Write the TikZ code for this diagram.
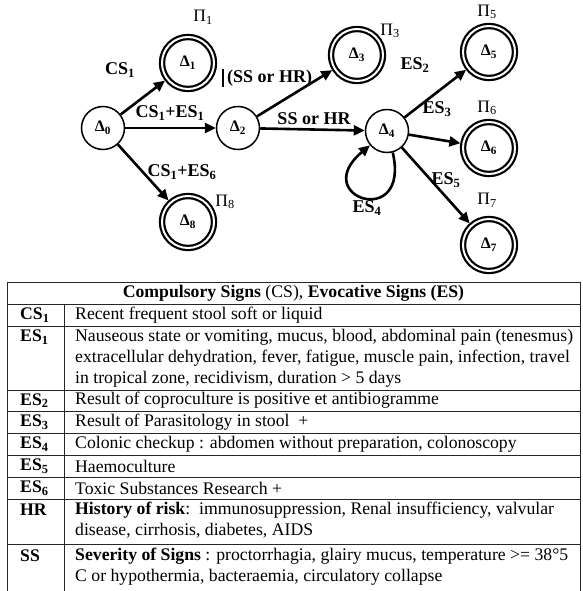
\documentclass[tikz,border=0pt]{standalone}
\usepackage{fontspec}
\setmainfont{Liberation Serif}
\usetikzlibrary{arrows.meta}
\begin{document}
\begin{tikzpicture}[x=1pt,y=-1pt,
 st/.style={circle,draw,line width=1.5pt,minimum size=43pt,inner sep=0pt,font=\fontsize{16}{16}\selectfont\bfseries},
 fin/.style={circle,draw,double,line width=2.2pt,double distance=2pt,minimum size=52pt,inner sep=0pt,outer sep=3pt,font=\fontsize{16}{16}\selectfont\bfseries},
 arr/.style={line width=2.6pt,-{Triangle[length=11pt,width=10pt]}},
 lbl/.style={font=\fontsize{18}{20}\selectfont\bfseries,inner sep=0pt},
 pil/.style={font=\fontsize{17.5}{20}\selectfont,inner sep=0pt},
 txt/.style={font=\fontsize{17.7}{21}\selectfont,anchor=west,align=left,inner sep=0pt},
 key/.style={font=\fontsize{17.7}{21}\selectfont\bfseries,anchor=west,inner sep=0pt},
 grid/.style={line width=0.8pt,black!85}]
\useasboundingbox (0,0) rectangle (582,591);
% states
\node[st]  (d0) at (103,128) {Δ\textsubscript{0}};
\node[fin] (d1) at (188,63)  {Δ\textsubscript{1}};
\node[st]  (d2) at (238,128) {Δ\textsubscript{2}};
\node[fin] (d8) at (188,222) {Δ\textsubscript{8}};
\node[fin] (d3) at (357,55)  {Δ\textsubscript{3}};
\node[st]  (d4) at (387,131) {Δ\textsubscript{4}};
\node[fin] (d5) at (489,52)  {Δ\textsubscript{5}};
\node[fin] (d6) at (489,148) {Δ\textsubscript{6}};
\node[fin] (d7) at (489,245) {Δ\textsubscript{7}};
% transitions
\draw[arr] (d0) -- (d1);
\draw[arr] (d0) -- (d2);
\draw[arr] (d0) -- (d8);
\draw[arr] (d2) -- (d3);
\draw[arr] (d2) -- (d4);
\draw[arr] (d4) -- (d5);
\draw[arr] (d4) -- (d6);
\draw[arr] (d4) -- (d7);
\draw[arr] (d4.-75) .. controls +(18,78) and +(-62,52) .. (d4.-140);
% transition labels
\node[lbl] (lcs1) at (120,70) {CS\textsubscript{1}};
\node[lbl] (lcs1es1) at (170,113) {CS\textsubscript{1}+ES\textsubscript{1}};
\node[lbl] (lcs1es6) at (182,172) {CS\textsubscript{1}+ES\textsubscript{6}};
\node[lbl,anchor=west] (lnot) at (222,78) {\rule[-4pt]{2pt}{18pt}\hspace{3pt}(SS or HR)};
\node[lbl] (lsshr) at (314,119) {SS or HR};
\node[lbl] (les2) at (415,65) {ES\textsubscript{2}};
\node[lbl] (les3) at (437,109) {ES\textsubscript{3}};
\node[lbl] (les4) at (367,208) {ES\textsubscript{4}};
\node[lbl] (les5) at (446,180) {ES\textsubscript{5}};
% outputs
\node[pil] (p1) at (203,17) {Π\textsubscript{1}};
\node[pil] (p3) at (390,31) {Π\textsubscript{3}};
\node[pil] (p5) at (487,12) {Π\textsubscript{5}};
\node[pil] (p6) at (487,108) {Π\textsubscript{6}};
\node[pil] (p7) at (487,200) {Π\textsubscript{7}};
\node[pil] (p8) at (225,202) {Π\textsubscript{8}};
% table grid
\foreach \yy in {282,304,326,390,411,433,455,477,499,544}
  \draw[grid] (7,\yy) -- (580,\yy);
\draw[grid] (7,282) -- (7,591);
\draw[grid] (580,282) -- (580,591);
\draw[grid] (64,304) -- (64,591);
% table text
\node[font=\fontsize{17.7}{21}\selectfont,inner sep=0pt] (hdr) at (293.5,293)
  {\textbf{Compulsory Signs} (CS), \textbf{Evocative Signs (ES)}};
\node[key] (kcs1) at (20,315) {CS\textsubscript{1}};
\node[key] (kes1) at (20,337) {ES\textsubscript{1}};
\node[key] (kes2) at (20,400.5) {ES\textsubscript{2}};
\node[key] (kes3) at (20,422) {ES\textsubscript{3}};
\node[key] (kes4) at (20,444) {ES\textsubscript{4}};
\node[key] (kes5) at (20,466) {ES\textsubscript{5}};
\node[key] (kes6) at (20,488) {ES\textsubscript{6}};
\node[key] (khr) at (20,510) {HR};
\node[key] (kss) at (20,556) {SS};
\node[txt] (tcs1) at (75,315) {Recent frequent stool soft or liquid};
\node[txt] (tes1) at (75,358) {Nauseous state or vomiting, mucus, blood, abdominal pain (tenesmus)\\
extracellular dehydration, fever, fatigue, muscle pain, infection, travel\\
in tropical zone, recidivism, duration > 5 days};
\node[txt] (tes2) at (75,400.5) {Result of coproculture is positive et antibiogramme};
\node[txt] (tes3) at (75,422) {Result of Parasitology in stool\ \ +};
\node[txt] (tes4) at (75,444) {Colonic checkup : abdomen without preparation, colonoscopy};
\node[txt] (tes5) at (75,466) {Haemoculture};
\node[txt] (tes6) at (75,488) {Toxic Substances Research +};
\node[txt] (thr) at (75,520.5) {\textbf{History of risk}:\ \ immunosuppression, Renal insufficiency, valvular\\
disease, cirrhosis, diabetes, AIDS};
\node[txt] (tss) at (75,566.5) {\textbf{Severity of Signs} : proctorrhagia, glairy mucus, temperature >= 38°5\\
C or hypothermia, bacteraemia, circulatory collapse};
\end{tikzpicture}
\end{document}
